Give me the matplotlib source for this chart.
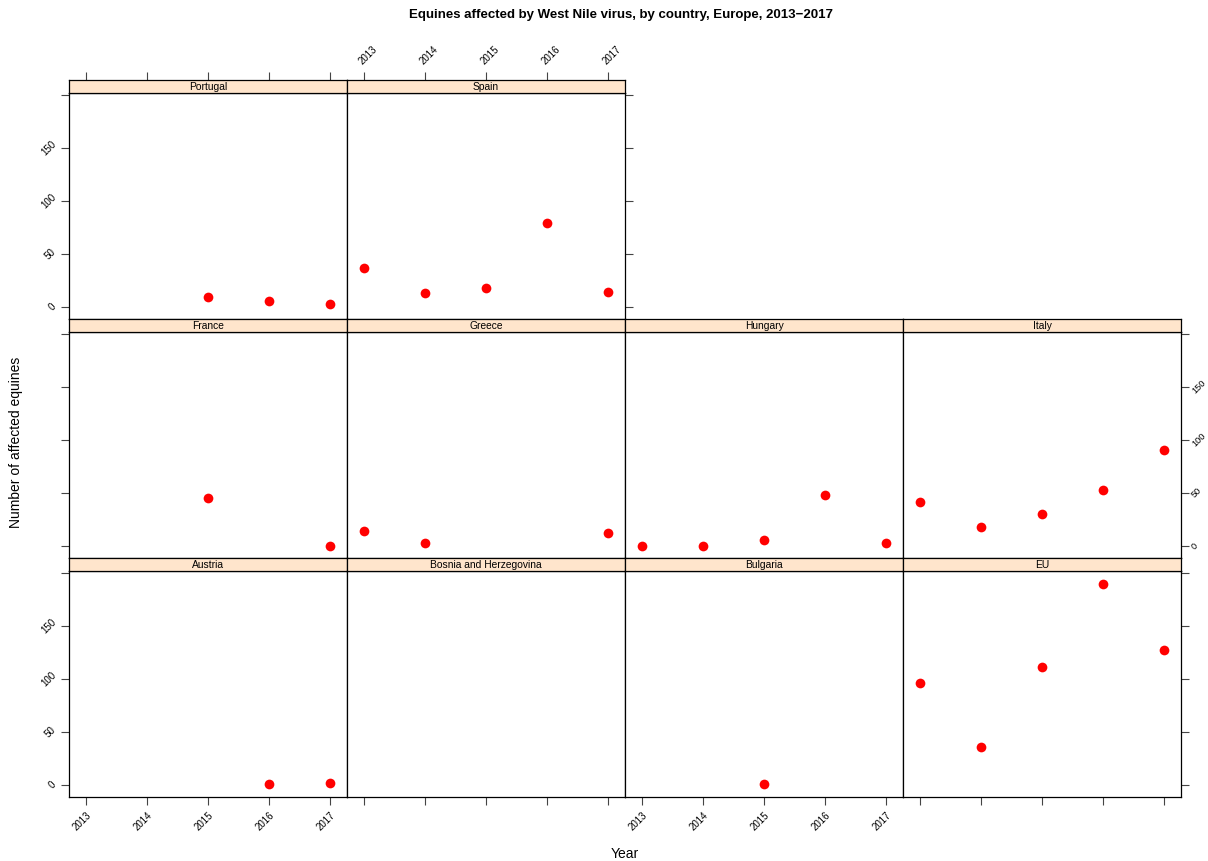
import numpy as np
import matplotlib.pyplot as plt

plt.rcParams['font.family'] = ['Liberation Sans', 'DejaVu Sans']

years = [2013, 2014, 2015, 2016, 2017]
nan = np.nan

# values, one list per country
portugal = [nan, nan, 9, 6, 3]
spain = [37, 13, 18, 79, 14]
france = [nan, nan, 45, nan, 0]
greece = [14, 3, nan, nan, 12]
hungary = [0, 0, 6, 48, 3]
italy = [42, 18, 30, 53, 91]
austria = [nan, nan, nan, 1, 2]
bosnia = [nan, nan, nan, nan, nan]
bulgaria = [nan, nan, 1, nan, nan]
eu = [96, 36, 111, 190, 127]

# row 0 is the top row of the page
panels = [
    ('Portugal', portugal, 0, 0), ('Spain', spain, 0, 1),
    ('France', france, 1, 0), ('Greece', greece, 1, 1),
    ('Hungary', hungary, 1, 2), ('Italy', italy, 1, 3),
    ('Austria', austria, 2, 0), ('Bosnia and Herzegovina', bosnia, 2, 1),
    ('Bulgaria', bulgaria, 2, 2), ('EU', eu, 2, 3),
]
yticks = [0, 50, 100, 150, 200]
ytick_labels = ['0', '50', '100', '150', '']

W, H = 1208, 861
fig = plt.figure(figsize=(W / 100, H / 100), dpi=100)

left0, colw = 69, 278
strip_top = [80, 319, 558]
strip_h, panel_h = 13, 226
xlim = (2012.72, 2017.28)
ylim = (-11.3, 202)
fs = 7

def fx(px):
    return px / W

def fy(py):
    return 1 - py / H

for name, vals, r, c in panels:
    x0 = left0 + c * colw
    st = strip_top[r]
    ax = fig.add_axes([fx(x0), fy(st + strip_h + panel_h), colw / W, panel_h / H])
    sax = fig.add_axes([fx(x0), fy(st + strip_h), colw / W, strip_h / H])

    ax.plot(years, vals, 'o', color='red', markersize=7, markeredgewidth=0)
    ax.set_xlim(xlim)
    ax.set_ylim(ylim)
    sax.set_xlim(xlim)
    sax.set_facecolor('#FFE5CC')
    sax.set_yticks([])
    sax.text(0.5, 0.45, name, transform=sax.transAxes, ha='center', va='center', fontsize=7.4)

    for a in (ax, sax):
        for s in a.spines.values():
            s.set_linewidth(0.9)
            s.set_color('black')

    # y axis: left column and rightmost panels
    ax.set_yticks(yticks)
    ax.tick_params(axis='y', direction='out', length=6, width=0.8, color='#444444',
                   labelsize=fs, pad=2)
    ax.tick_params(axis='y', which='major', labelsize=fs)
    ax.tick_params(axis='y', left=(c == 0), right=(c == 3 or (r == 0 and c == 1)),
                   labelleft=(c == 0 and r != 1), labelright=(c == 3 and r == 1))
    ax.set_yticklabels(ytick_labels)
    for lab in ax.get_yticklabels():
        lab.set_rotation(45)
        lab.set_va('center')
    if c == 3:
        # keep the right-hand labels inside the page
        for t in ax.yaxis.get_major_ticks():
            t.set_pad(0.5)
            t.label2.set_fontsize(6.6)

    # x axis: bottom row at bottom, top row above the strip
    ax.set_xticks(years)
    ax.tick_params(axis='x', direction='out', length=6, width=0.8, color='#444444',
                   labelsize=fs, top=False, bottom=(r == 2),
                   labelbottom=(r == 2 and c in (0, 2)))
    ax.set_xticklabels([str(y) for y in years], rotation=45, ha='right', rotation_mode='anchor')
    sax.set_xticks(years)
    sax.tick_params(axis='x', direction='out', length=6, width=0.8, color='#444444',
                    labelsize=fs, bottom=False, labelbottom=False,
                    top=(r == 0), labeltop=(r == 0 and c == 1))
    sax.set_xticklabels([str(y) for y in years], rotation=45, ha='left', rotation_mode='anchor')

fig.text(fx(621), fy(15), 'Equines affected by West Nile virus, by country, Europe, 2013\u22122017',
         ha='center', va='center', fontsize=9.5, fontweight='bold')
fig.text(fx(16), fy(442), 'Number of affected equines', rotation=90,
         ha='center', va='center', fontsize=10)
fig.text(fx(625), fy(854), 'Year', ha='center', va='center', fontsize=10)

fig.savefig('out.png', dpi=100)
